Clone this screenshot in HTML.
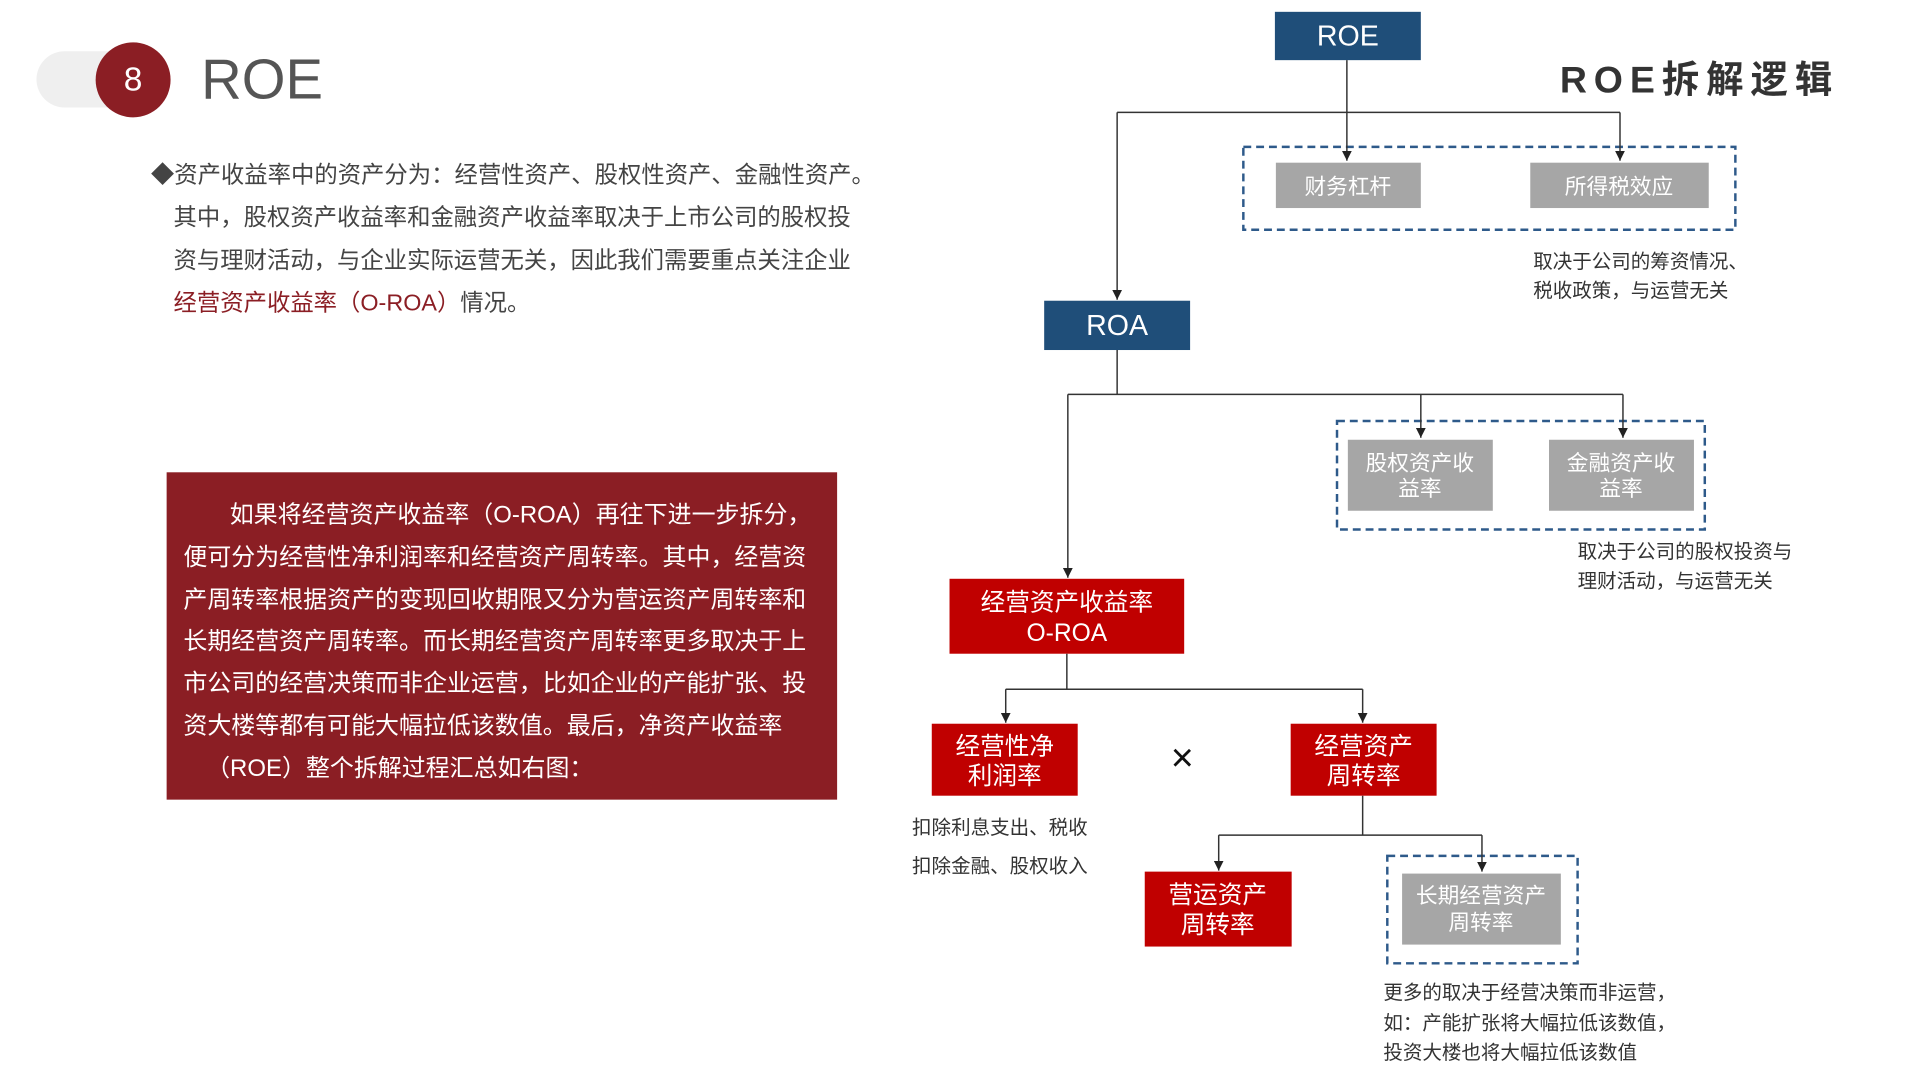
<!DOCTYPE html>
<html><head><meta charset="utf-8"><style>
body{margin:0;width:1920px;height:1080px;background:#fff;overflow:hidden;position:relative;font-family:"Liberation Sans","Noto Sans CJK SC",sans-serif}
#w{position:absolute;left:0;top:0;width:1920px;height:1080px;transform:scale(0.986);transform-origin:0 0}
.a{position:absolute}
</style></head><body><div id="w">
<div class="a" style="left:37px;top:52px;width:110px;height:57px;background:#efefef;border-radius:29px"></div>
<div class="a" style="left:97px;top:43px;width:76px;height:76px;background:#8b1e24;border-radius:50%;color:#fff;font-size:34px;line-height:76px;text-align:center">8</div>
<div class="a" style="left:204px;top:46px;font-size:57px;color:#555;line-height:70px">ROE</div>
<div class="a" style="left:153px;top:157px;width:800px;font-size:23.7px;line-height:43.3px;color:#444;white-space:nowrap">
◆资产收益率中的资产分为：经营性资产、股权性资产、金融性资产。<br>
<span style="padding-left:23px">其中，股权资产收益率和金融资产收益率取决于上市公司的股权投</span><br>
<span style="padding-left:23px">资与理财活动，与企业实际运营无关，因此我们需要重点关注企业</span><br>
<span style="padding-left:23px;color:#8b1e24">经营资产收益率（O-ROA）</span>情况。</div>
<div class="a" style="left:169px;top:479px;width:680px;height:332px;background:#8b1e24"></div>
<div class="a" style="left:186px;top:502px;width:700px;font-size:24.3px;line-height:42.8px;color:#fff;white-space:nowrap">
<span style="padding-left:47px">如果将经营资产收益率（O-ROA）再往下进一步拆分，</span><br>便可分为经营性净利润率和经营资产周转率。其中，经营资<br>产周转率根据资产的变现回收期限又分为营运资产周转率和<br>长期经营资产周转率。而长期经营资产周转率更多取决于上<br>市公司的经营决策而非企业运营，比如企业的产能扩张、投<br>资大楼等都有可能大幅拉低该数值。最后，净资产收益率<br><span style="padding-left:23px">（ROE）整个拆解过程汇总如右图：</span></div>
<div class="a" style="left:1582px;top:50px;font-size:38px;font-weight:bold;color:#333;letter-spacing:7px;white-space:nowrap">ROE拆解逻辑</div>
<svg class="a" style="left:0;top:0" width="1920" height="1080">
<defs><marker id="m" markerWidth="10" markerHeight="10" refX="10" refY="5" orient="auto" markerUnits="userSpaceOnUse"><path d="M0,0 L10,5 L0,10z" fill="#222"/></marker></defs>
<g stroke="#2e5a8a" stroke-width="2.5" stroke-dasharray="8,5" fill="none">
<rect x="1261" y="149" width="499" height="84"/>
<rect x="1356" y="427" width="373" height="110"/>
<rect x="1407" y="868" width="193" height="109"/>
</g>
<g font-family="Liberation Sans,Noto Sans CJK SC,sans-serif" text-anchor="middle">
<rect x="1293" y="12" width="148" height="49" fill="#1f4e79"/><text x="1367" y="46" fill="#fff" font-size="29">ROE</text>
<rect x="1059" y="305" width="148" height="50" fill="#1f4e79"/><text x="1133" y="340" fill="#fff" font-size="29">ROA</text>
<rect x="1294" y="165" width="147" height="46" fill="#a6a6a6"/><text x="1367" y="197" fill="#fff" font-size="22">财务杠杆</text>
<rect x="1552" y="165" width="181" height="46" fill="#a6a6a6"/><text x="1642" y="197" fill="#fff" font-size="22">所得税效应</text>
<rect x="1367" y="446" width="147" height="72" fill="#a6a6a6"/><text x="1440" y="477" fill="#fff" font-size="22">股权资产收</text><text x="1440" y="503" fill="#fff" font-size="22">益率</text>
<rect x="1571" y="446" width="147" height="72" fill="#a6a6a6"/><text x="1644" y="477" fill="#fff" font-size="22">金融资产收</text><text x="1644" y="503" fill="#fff" font-size="22">益率</text>
<rect x="963" y="587" width="238" height="76" fill="#c00000"/><text x="1082" y="619" fill="#fff" font-size="25">经营资产收益率</text><text x="1082" y="650" fill="#fff" font-size="25">O-ROA</text>
<rect x="945" y="734" width="148" height="73" fill="#c00000"/><text x="1019" y="765" fill="#fff" font-size="25">经营性净</text><text x="1019" y="795" fill="#fff" font-size="25">利润率</text>
<rect x="1309" y="734" width="148" height="73" fill="#c00000"/><text x="1383" y="765" fill="#fff" font-size="25">经营资产</text><text x="1383" y="795" fill="#fff" font-size="25">周转率</text>
<text x="1199" y="782" fill="#111" font-size="40">×</text>
<rect x="1161" y="884" width="149" height="76" fill="#c00000"/><text x="1235" y="916" fill="#fff" font-size="25">营运资产</text><text x="1235" y="946" fill="#fff" font-size="25">周转率</text>
<rect x="1422" y="886" width="161" height="72" fill="#a6a6a6"/><text x="1502" y="916" fill="#fff" font-size="22">长期经营资产</text><text x="1502" y="943" fill="#fff" font-size="22">周转率</text>
</g>
<g stroke="#333" stroke-width="1.5" fill="none">
<path d="M1366 61V114M1133 114H1643"/>
<path d="M1366 114V163" marker-end="url(#m)"/>
<path d="M1643 114V163" marker-end="url(#m)"/>
<path d="M1133 114V304" marker-end="url(#m)"/>
<path d="M1133 355V400M1083 400H1646"/>
<path d="M1441 400V444" marker-end="url(#m)"/>
<path d="M1646 400V444" marker-end="url(#m)"/>
<path d="M1083 400V586" marker-end="url(#m)"/>
<path d="M1082 663V699M1020 699H1382"/>
<path d="M1020 699V733" marker-end="url(#m)"/>
<path d="M1382 699V733" marker-end="url(#m)"/>
<path d="M1382 807V847M1236 847H1503"/>
<path d="M1236 847V883" marker-end="url(#m)"/>
<path d="M1503 847V884" marker-end="url(#m)"/>
</g>
<g font-family="Liberation Sans,Noto Sans CJK SC,sans-serif" font-size="19.8" fill="#333">
<text x="1555" y="272">取决于公司的筹资情况、</text><text x="1555" y="301">税收政策，与运营无关</text>
<text x="1600" y="566">取决于公司的股权投资与</text><text x="1600" y="596">理财活动，与运营无关</text>
<text x="925" y="846">扣除利息支出、税收</text><text x="925" y="885">扣除金融、股权收入</text>
<text x="1403" y="1013">更多的取决于经营决策而非运营，</text><text x="1403" y="1044">如：产能扩张将大幅拉低该数值，</text><text x="1403" y="1074">投资大楼也将大幅拉低该数值</text>
</g>
</svg>
</div></body></html>
